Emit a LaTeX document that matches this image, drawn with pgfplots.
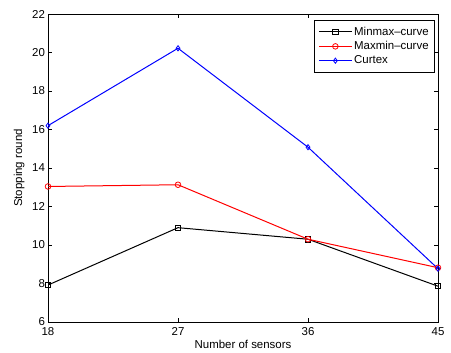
\documentclass[border=0pt]{standalone}
\usepackage{fontspec}
\setmainfont{Liberation Sans}
\usepackage{pgfplots}
\pgfplotsset{compat=1.18}
\begin{document}
\fontsize{11.5}{13}\selectfont
\begin{tikzpicture}
\begin{axis}[
  scale only axis,
  width=390bp, height=308bp,
  xmin=18, xmax=45, ymin=6, ymax=22,
  xtick={18,27,36,45}, ytick={6,8,...,22},
  tick align=inside, tick pos=both,
  major tick length=4bp,
  axis line style={line width=0.9bp},
  every tick/.style={black, line width=0.6bp},
  /pgf/number format/assume math mode=true,
  tick label style={font=\fontsize{11.5}{13}\selectfont},
  label style={font=\fontsize{11.5}{13}\selectfont},
  xlabel={Number of sensors},
  ylabel={Stopping round},
  xlabel style={yshift=3bp},
  ylabel style={yshift=0bp},
  yticklabel style={xshift=1bp},
  xticklabel style={yshift=-1.5bp},
  legend style={at={(1,1)}, xshift=-3bp, yshift=-6bp, anchor=north east,
    draw=black, line width=0.7bp, font=\fontsize{11.5}{13}\selectfont,
    row sep=0.5bp, inner xsep=4bp, inner ysep=4.5bp},
  legend cell align=left,
  legend image code/.code={\draw[#1] (0cm,0cm) -- (1.15cm,0cm); \draw[#1, only marks] plot coordinates {(0.575cm,0cm)};},
]
\addplot[black, line width=1bp, mark=square, mark size=2.7bp, mark options={solid, line width=0.8bp}]
 coordinates {(18,7.92) (27,10.9) (36,10.3) (45,7.86)};
\addlegendentry{Minmax--curve}
\addplot[red, line width=1bp, mark=o, mark size=2.8bp, mark options={solid, line width=0.8bp}]
 coordinates {(18,13.04) (27,13.13) (36,10.3) (45,8.82)};
\addlegendentry{Maxmin--curve}
\addplot[blue, line width=1bp, mark=diamond, mark size=2.6bp, mark options={solid, line width=0.8bp}]
 coordinates {(18,16.2) (27,20.22) (36,15.08) (45,8.77)};
\addlegendentry{Curtex}
\end{axis}
\path ([shift={(-48bp,-29bp)}]current axis.south west) rectangle ([shift={(13bp,14bp)}]current axis.north east);
\end{tikzpicture}
\end{document}
